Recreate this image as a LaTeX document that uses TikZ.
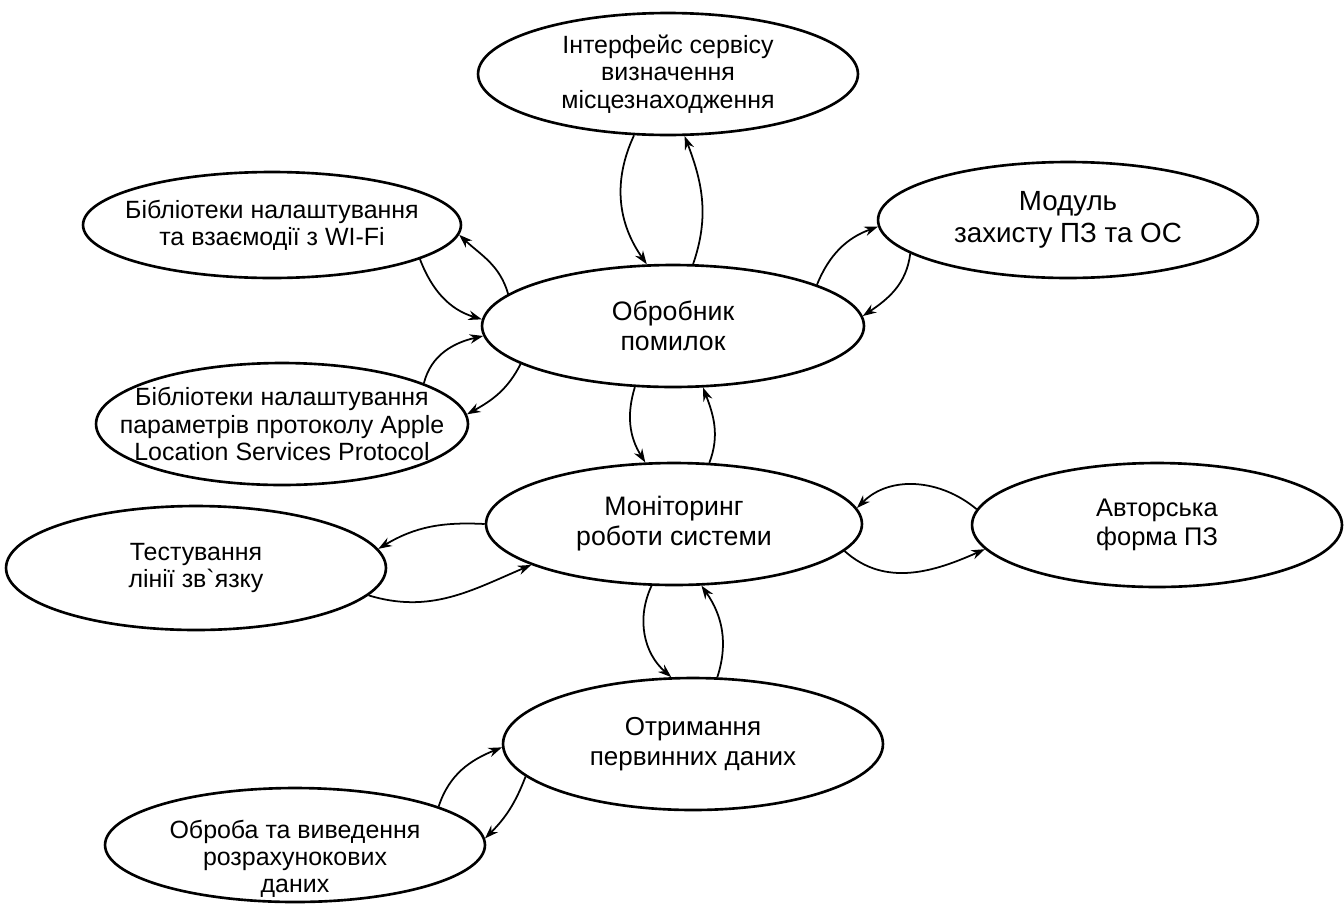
\documentclass[tikz,border=0pt]{standalone}
\usepackage{fontspec}
\setmainfont{Liberation Sans}
\usetikzlibrary{arrows.meta,shapes.geometric}
\tikzset{>={Stealth[length=2.7mm,width=1.9mm]}}
\tikzset{
  oval/.style={draw, ellipse, line width=1.5pt, inner xsep=-1.2cm, inner ysep=-0.2cm,
    align=center, font=\fontsize{14.2}{15.5}\selectfont},
  bigtext/.style={font=\fontsize{15.2}{17}\selectfont},
  link/.style={->, line width=1pt},
}

\begin{document}
\begin{tikzpicture}[x=0.02cm, y=-0.02cm]
    \useasboundingbox (0,0) rectangle (1344,903);

    \node [oval, minimum width=7.6cm, minimum height=2.44cm] (iface) at (668,74) {Інтерфейс сервісу\\визначення\\місцезнаходження};
    \node [oval, minimum width=7.56cm, minimum height=2.12cm] (wifi) at (272,225) {Бібліотеки налаштування\\та взаємодії з WI-Fi};
    \node [oval, minimum width=7.6cm, minimum height=2.32cm, font=\fontsize{15.8}{18}\selectfont] (modul) at (1068,220) {Модуль\\захисту ПЗ та ОС};
    \node [oval, bigtext, minimum width=7.64cm, minimum height=2.44cm] (err) at (673,326) {Обробник\\помилок};
    \node [oval, minimum width=7.44cm, minimum height=2.44cm] (apple) at (282,424) {Бібліотеки налаштування\\параметрів протоколу Apple\\Location Services Protocol};
    \node [oval, bigtext, minimum width=7.52cm, minimum height=2.44cm] (mon) at (674,524) {Моніторинг\\роботи системи};
    \node [oval, minimum width=7.6cm, minimum height=2.48cm] (test) at (196,568) {Тестування\\лінії зв\textasciigrave язку};
    \node [oval, minimum width=7.4cm, minimum height=2.48cm, font=\fontsize{14.5}{16.5}\selectfont] (avt) at (1157,525) {Авторська\\форма ПЗ};
    \node [oval, minimum width=7.6cm, minimum height=2.64cm, font=\fontsize{14.8}{17}\selectfont] (otr) at (693,744) {Отримання\\первинних даних};
    \node [oval, minimum width=7.6cm, minimum height=2.28cm] (obr) at (295,845) {};
    \node [align=center, inner sep=0pt, font=\fontsize{14.2}{15.5}\selectfont] (obrtext) at (295,859) {Оброба та виведення\\розрахунокових\\даних};

    % error handler links
    \draw [link] (iface.241) to [out=245, in=125] (err.113);
    \draw [link] (err.72) to [out=71, in=-69] (iface.-75);
    \draw [link] (err.169) to [out=106, in=-43] (wifi.-3);
    \draw [link] (wifi.-13) to [out=-69, in=163] (err.178);
    \draw [link] (apple.16) to [out=76, in=193] (err.183);
    \draw [link] (err.194) to [out=-117, in=29] (apple.3);
    \draw [link] (err.16) to [out=68, in=200] (modul.182);
    \draw [link] (modul.192) to [out=-97, in=34] (err.3);
    \draw [link] (err.238) to [out=-107, in=122] (mon.115);
    \draw [link] (mon.60) to [out=69, in=-69] (err.-64);

    % monitoring links
    \draw [link] (mon.180) to [out=177, in=31] (test.6);
    \draw [link] (test.-9) to [out=-17, in=203] (mon.196);
    \draw [link] (avt.175) to [out=140, in=45] (mon.5);
    \draw [link] (mon.-9) to [out=-42, in=204] (avt.188);
    \draw [link] (mon.250) to [out=245, in=139] (otr.108);
    \draw [link] (otr.70) to [out=72, in=-55] (mon.-66);

    % data links
    \draw [link] (obr.15) to [out=72, in=202] (otr.181);
    \draw [link] (otr.191) to [out=-111, in=45] (obr.2);
\end{tikzpicture}
\end{document}
